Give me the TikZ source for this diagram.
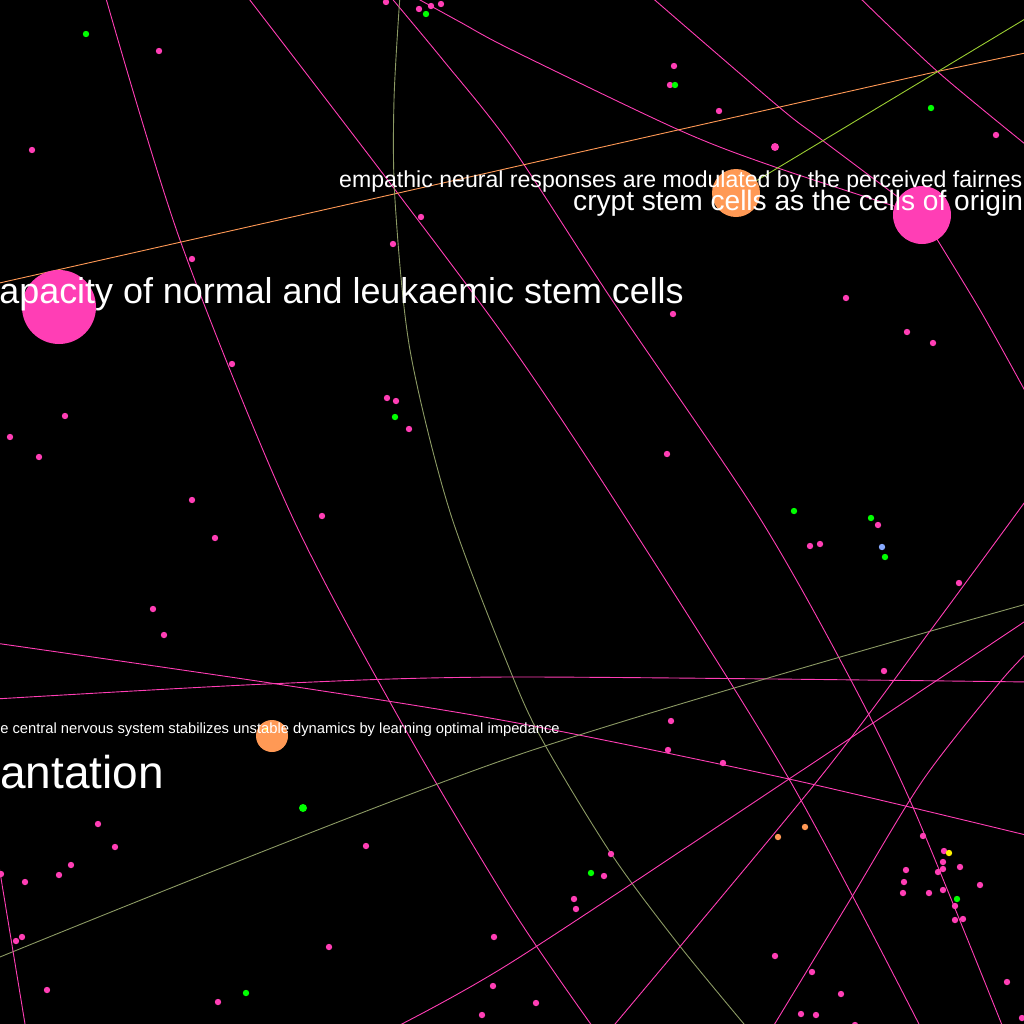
\documentclass[tikz,border=0pt]{standalone}
\usepackage{fontspec}
\newfontfamily\lab{Liberation Sans}
\definecolor{hpink}{RGB}{255,62,181}
\definecolor{lgreen}{RGB}{0,255,0}
\definecolor{lorange}{RGB}{255,153,85}
\definecolor{olive}{RGB}{140,154,100}
\definecolor{ygreen}{RGB}{154,205,50}
\definecolor{lblue}{RGB}{136,170,255}
\tikzset{
  edgeline/.style={line width=0.9bp},
  dot/.style={circle, inner sep=0pt, minimum size=6.4bp},
  lbl/.style={inner sep=0pt, text=white},
}
\begin{document}
\begin{tikzpicture}[x=1bp,y=-1bp]
\useasboundingbox (0,0) rectangle (1024,1024);
\fill[black] (0,0) rectangle (1024,1024);
\clip (0,0) rectangle (1024,1024);
% big nodes
\coordinate (c1) at (59,307);
\coordinate (c2) at (922,215);
\coordinate (c3) at (736,193);
\coordinate (c4) at (272,736);
% edges
\draw[edgeline,hpink] plot[smooth] coordinates {(105,-5) (180,240) (290,512) (400,720) (512,909) (595,1030)};
\draw[edgeline,hpink] plot[smooth] coordinates {(246,-5) (393,187) (512,347) (622,512) (789,779) (922,1030)};
\draw[edgeline,hpink] plot[smooth] coordinates {(389,-5) (443,60) (512,147) (612,300) (756,512) (845,669) (912,805) (1004,1030)};
\draw[edgeline,hpink] plot[smooth] coordinates {(411,-5) (460,22) (512,50) (679,130) (775,167) (c2)};
\draw[edgeline,hpink] plot[smooth] coordinates {(649,-5) (779,107) (822,140) (c2)};
\draw[edgeline,hpink] plot[smooth] coordinates {(c2) (980,310) (1030,400)};
\draw[edgeline,hpink] plot[smooth] coordinates {(857,-5) (938,72) (1030,148)};
\draw[edgeline,lorange] (-5,284) -- (935,72) -- (1030,52);
\draw[edgeline,ygreen] (c3) -- (1030,16);
\draw[edgeline,olive] plot[smooth] coordinates {(400,-5) (394,100) (395,200) (410,350) (450,512) (512,675) (545,745) (612,855) (679,945) (749,1030)};
\draw[edgeline,hpink] plot[smooth] coordinates {(-5,643) (277,684) (512,722) (789,779) (1030,836)};
\draw[edgeline,hpink] plot[smooth] coordinates {(-5,699) (267,684) (512,677) (1030,682)};
\draw[edgeline,olive] plot[smooth] coordinates {(-5,959) (512,757) (1030,603)};
\draw[edgeline,hpink] (-1,866) -- (26,1030);
\draw[edgeline,hpink] plot[smooth] coordinates {(390,1030) (512,962) (789,779) (1030,618)};
\draw[edgeline,hpink] plot[smooth] coordinates {(610,1030) (818,780) (933,627) (1030,495)};
\draw[edgeline,hpink] plot[smooth] coordinates {(771,1030) (850,900) (923,780) (1000,682) (1030,650)};
% big circles
\node[circle, fill=hpink, inner sep=0pt, minimum size=74bp] (n1) at (c1) {};
\node[circle, fill=hpink, inner sep=0pt, minimum size=58bp] (n2) at (c2) {};
\node[circle, fill=lorange, inner sep=0pt, minimum size=48bp] (n3) at (c3) {};
\node[circle, fill=lorange, inner sep=0pt, minimum size=32bp] (n4) at (c4) {};
\node[circle, fill=hpink, inner sep=0pt, minimum size=8bp] (n5) at (775,147) {};
\node[circle, fill=lgreen, inner sep=0pt, minimum size=8bp] (n6) at (303,808) {};
\node[circle, fill=yellow, inner sep=0pt, minimum size=3.5bp] (n7) at (266,729) {};
% small dots
\foreach \p [count=\i] in {(159,51),(32,150),(386,2),(419,9),(431,6),(441,4),(421,217),(393,244),(192,259),(232,364),(387,398),(396,401),(409,429),(65,416),(10,437),(39,457),(192,500),
(674,66),(670,85),(719,111),(996,135),(846,298),(673,314),(907,332),(933,343),(667,454),
(322,516),(215,538),(153,609),(164,635),(98,824),(115,847),(71,865),(59,875),(25,882),(1,874),(366,846),(22,937),(16,941),(47,990),(218,1002),(329,947),(494,937),(493,986),(482,1015),
(878,525),(810,546),(820,544),(959,583),(884,671),(671,721),(668,750),(723,763),(611,854),(604,876),(574,899),(576,909),(923,836),(944,851),(943,862),(960,867),(906,870),(943,869),(938,872),(904,882),(980,885),(903,893),(929,893),(943,890),(955,906),(955,920),(963,919),(775,956),(812,972),(841,994),(801,1014),(816,1015),(1007,982),(1022,1018),(536,1003),(855,1025)}
  \node[dot, fill=hpink] (pd\i) at \p {};
\foreach \p [count=\i] in {(86,34),(426,14),(395,417),(675,85),(931,108),(794,511),(871,518),(885,557),(591,873),(246,993),(957,899)}
  \node[dot, fill=lgreen] (gd\i) at \p {};
\node[dot, fill=lorange] (od1) at (805,827) {};
\node[dot, fill=lorange] (od2) at (778,837) {};
\node[dot, fill=yellow] (yd1) at (949,853) {};
\node[dot, fill=lblue] (bd1) at (882,547) {};
% labels
\node[lbl, anchor=base east, font=\lab\fontsize{35.9bp}{40bp}\selectfont] (t1) at (684,303) {apacity of normal and leukaemic stem cells};
\node[lbl, anchor=base west, font=\lab\fontsize{23.1bp}{26bp}\selectfont] (t2) at (339,187) {empathic neural responses are modulated by the perceived fairnes};
\node[lbl, anchor=base west, font=\lab\fontsize{28.1bp}{32bp}\selectfont] (t3) at (573,210) {crypt stem cells as the cells of origin};
\node[lbl, anchor=base east, font=\lab\fontsize{14.76bp}{17bp}\selectfont] (t4) at (560,733) {e central nervous system stabilizes unstable dynamics by learning optimal impedance};
\node[lbl, anchor=base east, font=\lab\fontsize{46bp}{50bp}\selectfont] (t5) at (164,788) {antation};
\end{tikzpicture}
\end{document}
